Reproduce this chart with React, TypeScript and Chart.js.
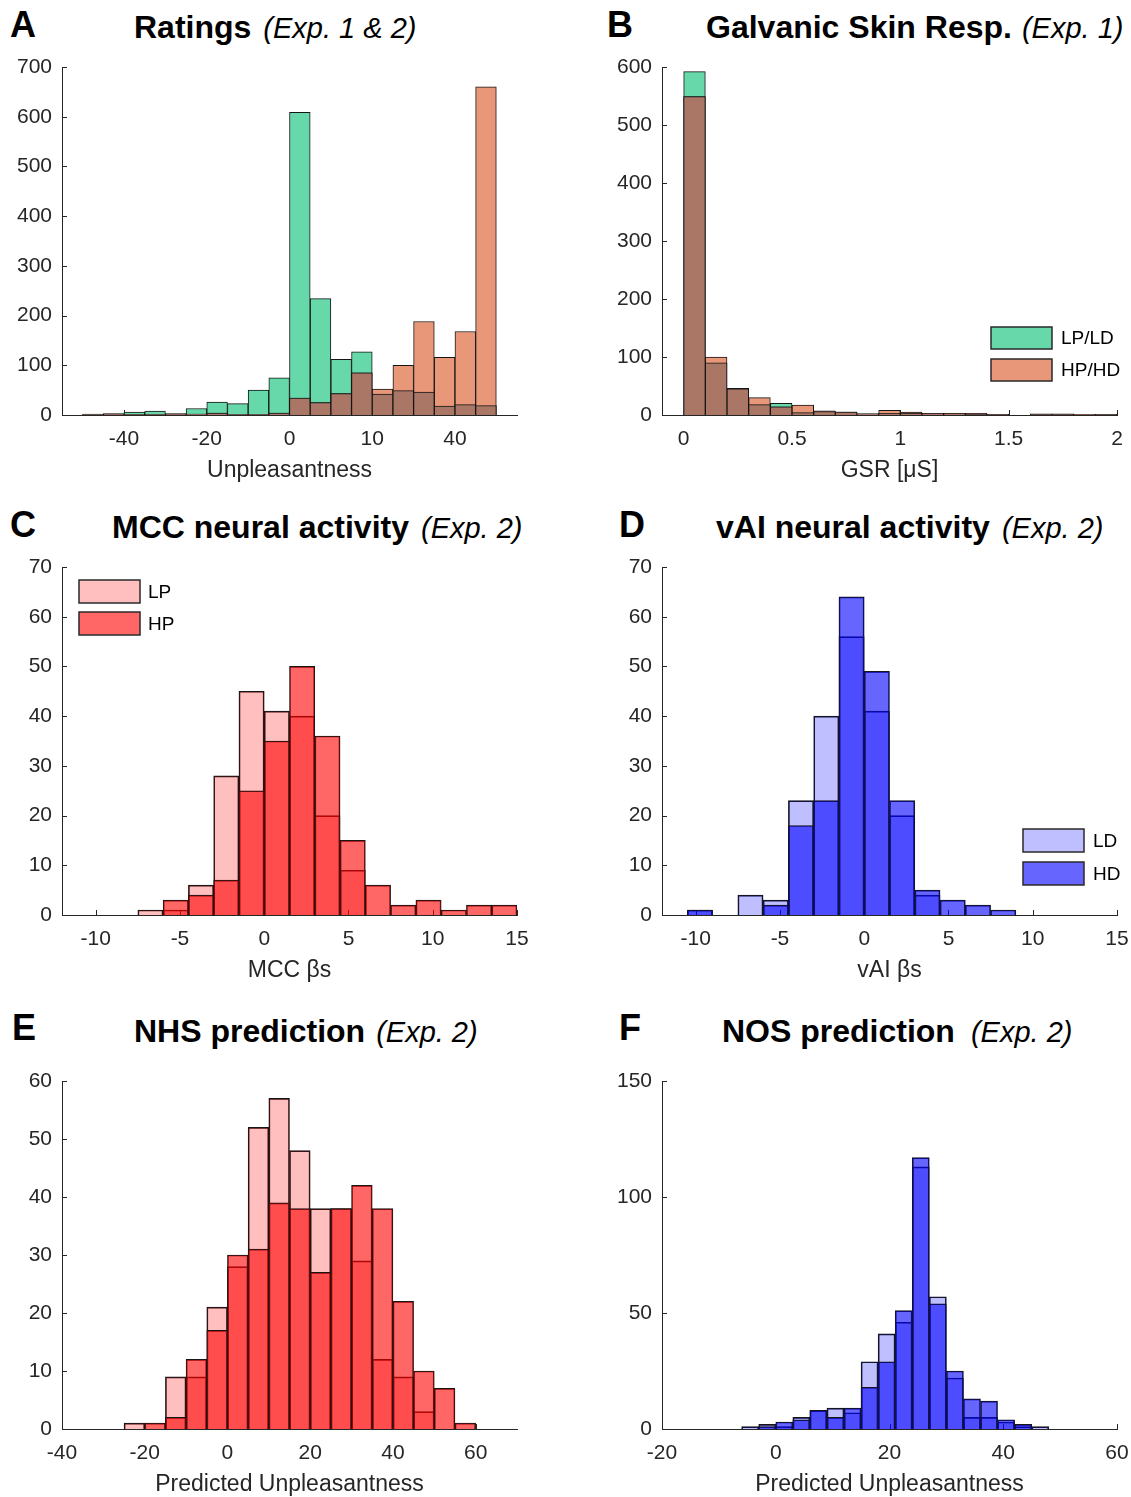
import React, { useEffect, useRef } from "react";
import { Chart, registerables } from "chart.js";

Chart.register(...registerables);

// ---------------- DATA ----------------
// A: Ratings (Exp. 1 & 2) — bin centres (width 5)
const ratingsBins = [-47.5, -42.5, -37.5, -32.5, -27.5, -22.5, -17.5, -12.5, -7.5, -2.5, 2.5, 7.5, 12.5, 17.5, 22.5, 27.5, 32.5, 37.5, 42.5, 47.5];
const ratingsLP = [2, 3, 6, 8, 3, 13, 26, 23, 50, 75, 609, 234, 112, 127, 42, 49, 46, 18, 21, 19];
const ratingsHP = [1, 2, 1, 1, 2, 2, 4, 1, 1, 4, 34, 25, 43, 85, 52, 100, 188, 116, 168, 660];
const ratingsXTicks = [-40, -20, 0, 20, 40];
const ratingsXTickLabels = ["-40", "-20", "0", "10", "40"];

// B: Galvanic Skin Resp. (Exp. 1) — bin centres (width 0.1)
const gsrBins = [0.05, 0.15, 0.25, 0.35, 0.45, 0.55, 0.65, 0.75, 0.85, 0.95, 1.05, 1.15, 1.25, 1.35, 1.45, 1.55, 1.65, 1.75, 1.85, 1.95];
const gsrLP = [592, 90, 46, 18, 20, 4, 6, 5, 2, 3, 3, 3, 2, 1, 1, 0, 1, 1, 0, 1];
const gsrHP = [549, 100, 45, 30, 14, 17, 7, 5, 2, 8, 5, 3, 3, 3, 1, 0, 2, 2, 1, 1];
const gsrXTicks = [0, 0.5, 1, 1.5, 2];
const gsrXTickLabels = ["0", "0.5", "1", "1.5", "2"];

// C: MCC neural activity (Exp. 2) — bin centres (width 1.5)
const mccBins = [-6.75, -5.25, -3.75, -2.25, -0.75, 0.75, 2.25, 3.75, 5.25, 6.75, 8.25, 9.75, 11.25, 12.75, 14.25];
const mccLP = [1, 1, 6, 28, 45, 41, 40, 20, 9, 0, 0, 0, 0, 0, 0];
const mccHP = [0, 3, 4, 7, 25, 35, 50, 36, 15, 6, 2, 3, 1, 2, 2];
const betaXTicks = [-10, -5, 0, 5, 10, 15];
const betaXTickLabels = ["-10", "-5", "0", "5", "10", "15"];

// D: vAI neural activity (Exp. 2) — bin centres (width 1.5)
const vaiBins = [-9.75, -8.25, -6.75, -5.25, -3.75, -2.25, -0.75, 0.75, 2.25, 3.75, 5.25, 6.75, 8.25];
const vaiLD = [1, 0, 4, 3, 23, 40, 56, 41, 20, 4, 0, 0, 0];
const vaiHD = [1, 0, 0, 2, 18, 23, 64, 49, 23, 5, 3, 2, 1];

// E: NHS prediction (Exp. 2) — bin centres (width 5)
const nhsBins = [-22.5, -17.5, -12.5, -7.5, -2.5, 2.5, 7.5, 12.5, 17.5, 22.5, 27.5, 32.5, 37.5, 42.5, 47.5, 52.5, 57.5];
const nhsLP = [1, 0, 9, 9, 21, 28, 52, 57, 48, 38, 38, 29, 12, 9, 3, 0, 0];
const nhsHP = [0, 1, 2, 12, 17, 30, 31, 39, 38, 27, 38, 42, 38, 22, 10, 7, 1];
const nhsXTicks = [-40, -20, 0, 20, 40, 60];
const nhsXTickLabels = ["-40", "-20", "0", "20", "40", "60"];

// F: NOS prediction (Exp. 2) — bin centres (width 3)
const nosBins = [-4.5, -1.5, 1.5, 4.5, 7.5, 10.5, 13.5, 16.5, 19.5, 22.5, 25.5, 28.5, 31.5, 34.5, 37.5, 40.5, 43.5, 46.5];
const nosLD = [1, 2, 1, 5, 8, 9, 7, 29, 41, 46, 113, 57, 22, 5, 5, 3, 1, 1];
const nosHD = [0, 1, 3, 4, 8, 5, 9, 18, 29, 51, 117, 54, 25, 13, 12, 4, 2, 0];
const nosXTicks = [-20, 0, 20, 40, 60];
const nosXTickLabels = ["-20", "0", "20", "40", "60"];

// ---------------- STYLE ----------------
const FONT = "'Liberation Sans', Arial, Helvetica, sans-serif";
const AXIS = "#262626";
const EDGE = "#161616";
Chart.defaults.font.family = FONT;

const SCHEMES: Record<string, { c1: string; c2: string; overlap?: string }> = {
  greenOrange: { c1: "#66D8AA", c2: "#E89878", overlap: "#AA7767" },
  red: { c1: "rgba(255,0,0,0.25)", c2: "rgba(255,0,0,0.6)" },
  blue: { c1: "rgba(0,0,255,0.25)", c2: "rgba(0,0,255,0.6)" },
};

type LegendPos = { x: number; y: number; w: number; h: number; step: number; dx: number };

type PanelCfg = {
  id: string;
  left: number;
  top: number;
  width: number;
  height: number;
  padRight: number;
  bins: number[];
  s1: number[];
  s2: number[];
  labels: [string, string];
  scheme: string;
  xMin: number;
  xMax: number;
  xTicks: number[];
  xTickLabels: string[];
  yMax: number;
  yStep: number;
  xTitle: string;
  legend: LegendPos | null;
  letter: { text: string; left: number; base: number };
  title: { bold: string; ital: string; left: number; base: number; gap: number };
};

const panels: PanelCfg[] = [
  {
    id: "A", left: 0, top: 46, width: 560, height: 437, padRight: 43,
    bins: ratingsBins, s1: ratingsLP, s2: ratingsHP, labels: ["LP/LD", "HP/HD"], scheme: "greenOrange",
    xMin: -55, xMax: 55, xTicks: ratingsXTicks, xTickLabels: ratingsXTickLabels, yMax: 700, yStep: 100,
    xTitle: "Unpleasantness", legend: null,
    letter: { text: "A", left: 10, base: 37 },
    title: { bold: "Ratings", ital: "(Exp. 1 & 2)", left: 134, base: 38, gap: 12 },
  },
  {
    id: "B", left: 600, top: 46, width: 531, height: 437, padRight: 14,
    bins: gsrBins, s1: gsrLP, s2: gsrHP, labels: ["LP/LD", "HP/HD"], scheme: "greenOrange",
    xMin: -0.1, xMax: 2, xTicks: gsrXTicks, xTickLabels: gsrXTickLabels, yMax: 600, yStep: 100,
    xTitle: "GSR [μS]", legend: { x: 391, y: 281, w: 61, h: 22, step: 32, dx: 70 },
    letter: { text: "B", left: 607, base: 37 },
    title: { bold: "Galvanic Skin Resp.", ital: "(Exp. 1)", left: 706, base: 38, gap: 10 },
  },
  {
    id: "C", left: 0, top: 546, width: 560, height: 437, padRight: 43,
    bins: mccBins, s1: mccLP, s2: mccHP, labels: ["LP", "HP"], scheme: "red",
    xMin: -12, xMax: 15, xTicks: betaXTicks, xTickLabels: betaXTickLabels, yMax: 70, yStep: 10,
    xTitle: "MCC βs", legend: { x: 79, y: 34, w: 61, h: 23, step: 32, dx: 69 },
    letter: { text: "C", left: 10, base: 537 },
    title: { bold: "MCC neural activity", ital: "(Exp. 2)", left: 112, base: 538, gap: 12 },
  },
  {
    id: "D", left: 600, top: 546, width: 531, height: 437, padRight: 14,
    bins: vaiBins, s1: vaiLD, s2: vaiHD, labels: ["LD", "HD"], scheme: "blue",
    xMin: -12, xMax: 15, xTicks: betaXTicks, xTickLabels: betaXTickLabels, yMax: 70, yStep: 10,
    xTitle: "vAI βs", legend: { x: 423, y: 283, w: 61, h: 23, step: 33, dx: 70 },
    letter: { text: "D", left: 619, base: 537 },
    title: { bold: "vAI neural activity", ital: "(Exp. 2)", left: 716, base: 538, gap: 12 },
  },
  {
    id: "E", left: 0, top: 1060, width: 560, height: 437, padRight: 43,
    bins: nhsBins, s1: nhsLP, s2: nhsHP, labels: ["LP", "HP"], scheme: "red",
    xMin: -40, xMax: 70, xTicks: nhsXTicks, xTickLabels: nhsXTickLabels, yMax: 60, yStep: 10,
    xTitle: "Predicted Unpleasantness", legend: null,
    letter: { text: "E", left: 12, base: 1040 },
    title: { bold: "NHS prediction", ital: "(Exp. 2)", left: 134, base: 1042, gap: 11 },
  },
  {
    id: "F", left: 600, top: 1060, width: 531, height: 437, padRight: 14,
    bins: nosBins, s1: nosLD, s2: nosHD, labels: ["LD", "HD"], scheme: "blue",
    xMin: -20, xMax: 60, xTicks: nosXTicks, xTickLabels: nosXTickLabels, yMax: 150, yStep: 50,
    xTitle: "Predicted Unpleasantness", legend: null,
    letter: { text: "F", left: 619, base: 1040 },
    title: { bold: "NOS prediction", ital: "(Exp. 2)", left: 722, base: 1042, gap: 16 },
  },
];

// ---------------- PLUGIN ----------------
const decoPlugin = {
  id: "panelDeco",
  beforeDatasetsDraw(chart: any) {
    const { ctx, chartArea, scales } = chart;
    const x = scales.x;
    const y = scales.y;
    ctx.save();
    ctx.strokeStyle = AXIS;
    ctx.lineWidth = 1;
    ctx.beginPath();
    x.ticks.forEach((t: any) => {
      const px = Math.round(x.getPixelForValue(t.value)) + 0.5;
      ctx.moveTo(px, chartArea.bottom);
      ctx.lineTo(px, chartArea.bottom - 5);
    });
    y.ticks.forEach((t: any) => {
      const py = Math.round(y.getPixelForValue(t.value)) + 0.5;
      ctx.moveTo(chartArea.left, py);
      ctx.lineTo(chartArea.left + 5, py);
    });
    ctx.stroke();
    ctx.restore();
  },
  afterDraw(chart: any, _args: any, opts: any) {
    const lg = opts && opts.box;
    if (!lg) return;
    const ctx = chart.ctx;
    const items = chart.data.datasets.filter((d: any) => d.inLegend);
    ctx.save();
    items.forEach((d: any, i: number) => {
      const y = lg.y + i * lg.step;
      ctx.fillStyle = "#ffffff";
      ctx.fillRect(lg.x, y, lg.w, lg.h);
      ctx.fillStyle = d.backgroundColor;
      ctx.fillRect(lg.x, y, lg.w, lg.h);
      ctx.strokeStyle = "#2a2a2a";
      ctx.lineWidth = 1.5;
      ctx.strokeRect(lg.x, y, lg.w, lg.h);
      ctx.fillStyle = "#000000";
      ctx.font = `19px ${FONT}`;
      ctx.textBaseline = "middle";
      ctx.textAlign = "left";
      ctx.fillText(d.label, lg.x + lg.dx, y + lg.h / 2 + 1);
    });
    ctx.restore();
  },
};

function buildDatasets(p: PanelCfg) {
  const sc = SCHEMES[p.scheme];
  const common = {
    barPercentage: 1,
    categoryPercentage: 1,
    grouped: false,
    borderWidth: 1,
    borderColor: EDGE,
    borderSkipped: "start",
  };
  const ds: any[] = [
    {
      ...common,
      label: p.labels[0],
      inLegend: true,
      data: p.bins.map((b, i) => ({ x: b, y: p.s1[i] })),
      backgroundColor: sc.c1,
      order: 2,
    },
    {
      ...common,
      label: p.labels[1],
      inLegend: true,
      data: p.bins.map((b, i) => ({ x: b, y: p.s2[i] })),
      backgroundColor: sc.c2,
      order: 1,
    },
  ];
  if (sc.overlap) {
    ds.push({
      ...common,
      label: "overlap",
      inLegend: false,
      data: p.bins.map((b, i) => ({ x: b, y: Math.min(p.s1[i], p.s2[i]) })),
      backgroundColor: sc.overlap,
      order: 0,
    });
  }
  return ds;
}

function Panel({ p }: { p: PanelCfg }) {
  const ref = useRef<HTMLCanvasElement | null>(null);
  useEffect(() => {
    if (!ref.current) return;
    const chart = new Chart(ref.current, {
      type: "bar",
      data: { datasets: buildDatasets(p) },
      options: {
        animation: false,
        responsive: false,
        maintainAspectRatio: false,
        layout: { padding: { top: 21, right: p.padRight, left: 0, bottom: 0 } },
        plugins: {
          legend: { display: false },
          tooltip: { enabled: false },
          title: { display: false },
          panelDeco: { box: p.legend },
        } as any,
        scales: {
          x: {
            type: "linear",
            min: p.xMin,
            max: p.xMax,
            offset: false,
            grid: { display: false, drawTicks: false },
            border: { display: true, color: AXIS, width: 1 },
            ticks: {
              autoSkip: false,
              maxRotation: 0,
              padding: 12,
              color: AXIS,
              font: { size: 21, family: FONT },
              callback: (v: any) => {
                const i = p.xTicks.findIndex((t) => Math.abs(t - Number(v)) < 1e-9);
                return i >= 0 ? p.xTickLabels[i] : "";
              },
            },
            afterBuildTicks: (s: any) => {
              s.ticks = p.xTicks.map((v) => ({ value: v }));
            },
            afterFit: (s: any) => {
              s.height = 68;
              s.paddingLeft = 0;
              s.paddingRight = 0;
            },
            title: {
              display: true,
              text: p.xTitle,
              color: AXIS,
              font: { size: 23, family: FONT, lineHeight: 1.1 },
              padding: { top: 0, bottom: 0 },
            },
          },
          y: {
            type: "linear",
            min: 0,
            max: p.yMax,
            grid: { display: false, drawTicks: false },
            border: { display: true, color: AXIS, width: 1 },
            ticks: {
              stepSize: p.yStep,
              padding: 10,
              color: AXIS,
              font: { size: 21, family: FONT },
            },
            afterFit: (s: any) => {
              s.width = 62;
              s.paddingTop = 0;
              s.paddingBottom = 0;
            },
          },
        } as any,
      } as any,
      plugins: [decoPlugin as any],
    });
    return () => chart.destroy();
  }, [p]);
  return (
    <canvas
      ref={ref}
      width={p.width}
      height={p.height}
      style={{ position: "absolute", left: p.left, top: p.top, width: p.width, height: p.height }}
    />
  );
}

function Heading({ p }: { p: PanelCfg }) {
  const LF = 36;
  const BF = 32;
  const IF = 29;
  return (
    <>
      <div
        style={{
          position: "absolute",
          left: p.letter.left,
          top: p.letter.base - 0.8465 * LF,
          fontFamily: FONT,
          fontWeight: "bold",
          fontSize: LF,
          lineHeight: `${LF}px`,
          color: "#000",
          whiteSpace: "nowrap",
        }}
      >
        {p.letter.text}
      </div>
      <div
        style={{
          position: "absolute",
          left: p.title.left,
          top: p.title.base - 0.8465 * BF,
          fontFamily: FONT,
          fontSize: BF,
          lineHeight: `${BF}px`,
          color: "#000",
          whiteSpace: "nowrap",
        }}
      >
        <span style={{ fontWeight: "bold" }}>{p.title.bold}</span>
        <span style={{ fontStyle: "italic", fontSize: IF, marginLeft: p.title.gap }}>{p.title.ital}</span>
      </div>
    </>
  );
}

export default function App() {
  return (
    <div
      style={{
        position: "absolute",
        left: 0,
        top: 0,
        width: 1131,
        height: 1497,
        overflow: "hidden",
        background: "#ffffff",
      }}
    >
      {panels.map((p) => (
        <React.Fragment key={p.id}>
          <Panel p={p} />
          <Heading p={p} />
        </React.Fragment>
      ))}
    </div>
  );
}
